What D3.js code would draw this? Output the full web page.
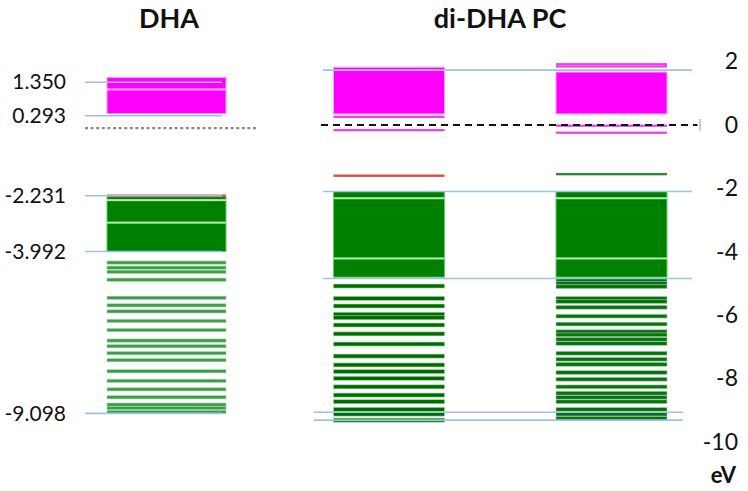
<!DOCTYPE html>
<html>
<head>
<meta charset="utf-8">
<script src="https://cdnjs.cloudflare.com/ajax/libs/d3/7.8.5/d3.min.js"></script>
<style>
  body { margin: 0; background: #fff; }
  svg { display: block; font-family: Lato, "Open Sans", sans-serif; }
</style>
</head>
<body>
<svg width="748" height="491"></svg>
<script>
// columns of the diagram
var columnNames = ["DHA", "di-DHA PC (a)", "di-DHA PC (b)"];
var titles = ["DHA", "di-DHA PC"];

// tick labels
var dhaTicks = [1.350, 0.293, -2.231, -3.992, -9.098];
var rightTicks = [2, 0, -2, -4, -6, -8, -10];

// DHA levels (eV)
var dhaUnoccBands = [[1.50, 0.36]];
var dhaUnoccGaps = [1.12];
var dhaUnoccLines = [];
var dhaFrontier = [-2.231];
var dhaOccBands = [[-2.26, -3.992]];
var dhaOccGaps = [-2.37, -3.08];
var dhaOccLines = [-4.34, -4.50, -4.63, -4.88, -5.45, -5.69, -5.88, -6.18, -6.47, -6.80,
  -6.98, -7.20, -7.42, -7.77, -8.07, -8.34, -8.59, -8.82, -8.93, -9.05];
var dhaFermi = -0.1;

// di-DHA PC, first column
var di1UnoccBands = [[1.82, 0.35]];
var di1UnoccGaps = [];
var di1UnoccLines = [0.26, -0.16];
var di1Frontier = [-1.60];
var di1OccBands = [[-2.10, -4.80]];
var di1OccGaps = [-2.31, -4.21];
var di1OccLines = [-5.08, -5.47, -5.71, -5.97, -6.08, -6.31, -6.59, -6.91, -7.29, -7.57,
  -7.78, -7.99, -8.26, -8.52, -8.73, -8.97, -9.12, -9.31];

// di-DHA PC, second column
var di2UnoccBands = [[1.67, 0.35]];
var di2UnoccGaps = [];
var di2UnoccLines = [1.92, 1.85, -0.02, -0.24];
var di2Frontier = [-1.55];
var di2OccBands = [[-2.10, -4.80]];
var di2OccGaps = [-2.31, -4.21];
var di2OccLines = [-4.89, -4.99, -5.10, -5.47, -5.57, -5.75, -6.03, -6.28, -6.52, -6.62,
  -6.76, -6.89, -7.20, -7.39, -7.55, -7.81, -8.02, -8.26, -8.46, -8.59, -8.73, -8.97, -9.12, -9.25];

// reference lines of the di-DHA PC panel
var diRefLines = [1.73, -2.10, -4.84];
var diRefLinesLow = [-9.06, -9.31];
var diFermi = 0;

var columns = [
  { key: columnNames[0], unoccBands: dhaUnoccBands, unoccGaps: dhaUnoccGaps, unoccLines: dhaUnoccLines,
    frontier: dhaFrontier, occBands: dhaOccBands, occGaps: dhaOccGaps, occLines: dhaOccLines },
  { key: columnNames[1], unoccBands: di1UnoccBands, unoccGaps: di1UnoccGaps, unoccLines: di1UnoccLines,
    frontier: di1Frontier, occBands: di1OccBands, occGaps: di1OccGaps, occLines: di1OccLines },
  { key: columnNames[2], unoccBands: di2UnoccBands, unoccGaps: di2UnoccGaps, unoccLines: di2UnoccLines,
    frontier: di2Frontier, occBands: di2OccBands, occGaps: di2OccGaps, occLines: di2OccLines }
];

var frontierColor = { "DHA": "#e0503c", "di-DHA PC (a)": "#d9503f", "di-DHA PC (b)": "#2f8a3a" };
var lineColor = { "DHA": "#3f9b4c", "di-DHA PC (a)": "#006c00", "di-DHA PC (b)": "#0b6f14" };
var lineH = { "DHA": 3.2, "di-DHA PC (a)": 4, "di-DHA PC (b)": 3.8 };

var svg = d3.select("svg");

var y = d3.scaleLinear().domain([2, -10]).range([61.6, 442]);
var x = d3.scalePoint().domain(columnNames).range([166.5, 611.5]);
function barW(k) { return k === columnNames[0] ? 119 : 111; }

var bars = svg.append("g");

columns.forEach(function (c) {
  var g = bars.append("g");
  var x0 = x(c.key) - barW(c.key) / 2;
  var w = barW(c.key);

  // unoccupied bands (magenta)
  g.selectAll(".ub").data(c.unoccBands).enter().append("rect")
    .attr("x", x0).attr("width", w)
    .attr("y", function (d) { return y(d[0]); })
    .attr("height", function (d) { return y(d[1]) - y(d[0]); })
    .attr("fill", "#ff00ff").attr("stroke", "#ff99ff").attr("stroke-width", 1);
  g.selectAll(".ug").data(c.unoccGaps).enter().append("rect")
    .attr("x", x0).attr("width", w)
    .attr("y", function (d) { return y(d) - 1; }).attr("height", 2)
    .attr("fill", "#ffb8ff");
  g.selectAll(".ul").data(c.unoccLines).enter().append("rect")
    .attr("x", x0).attr("width", w)
    .attr("y", function (d) { return y(d) - 1; }).attr("height", 2.2)
    .attr("fill", "#ea3cea");

  // occupied bands (green)
  g.selectAll(".ob").data(c.occBands).enter().append("rect")
    .attr("x", x0).attr("width", w)
    .attr("y", function (d) { return y(d[0]); })
    .attr("height", function (d) { return y(d[1]) - y(d[0]); })
    .attr("fill", "#008000").attr("stroke", "#5ccf5c").attr("stroke-width", 1);
  g.selectAll(".og").data(c.occGaps).enter().append("rect")
    .attr("x", x0).attr("width", w)
    .attr("y", function (d) { return y(d) - 1; }).attr("height", 2)
    .attr("fill", "#b6ecb6");
  g.selectAll(".ol").data(c.occLines).enter().append("rect")
    .attr("x", x0).attr("width", w)
    .attr("y", function (d) { return y(d) - lineH[c.key] / 2; }).attr("height", lineH[c.key])
    .attr("fill", lineColor[c.key])
    .attr("stroke", "#9ad99a").attr("stroke-width", 0.6);

  // frontier level
  g.selectAll(".fl").data(c.frontier).enter().append("rect")
    .attr("x", x0).attr("width", w)
    .attr("y", function (d) { return y(d) - 1.2; }).attr("height", 2.4)
    .attr("fill", frontierColor[c.key]);
});

// blue reference lines
var blue = "#9cc2e5";
var xd = x(columnNames[0]);
svg.append("g").selectAll("line").data(dhaTicks).enter().append("line")
  .attr("x1", xd - 81.5).attr("x2", xd + 55.5)
  .attr("y1", function (d) { return y(d); }).attr("y2", function (d) { return y(d); })
  .attr("stroke", blue).attr("stroke-width", 1.6);

var xa = x(columnNames[1]), xb = x(columnNames[2]);
svg.append("g").selectAll("line").data(diRefLines).enter().append("line")
  .attr("x1", xa - 66).attr("x2", xb + 80.5)
  .attr("y1", function (d) { return y(d); }).attr("y2", function (d) { return y(d); })
  .attr("stroke", blue).attr("stroke-width", 1.6);
svg.append("g").selectAll("line").data(diRefLinesLow).enter().append("line")
  .attr("x1", xa - 75).attr("x2", xb + 71.5)
  .attr("y1", function (d) { return y(d); }).attr("y2", function (d) { return y(d); })
  .attr("stroke", blue).attr("stroke-width", 1.6);

// Fermi / zero lines
svg.append("line")
  .attr("x1", xd - 81.5).attr("x2", xd + 89.5)
  .attr("y1", y(dhaFermi)).attr("y2", y(dhaFermi))
  .attr("stroke", "#8a8a8a").attr("stroke-width", 2.2).attr("stroke-dasharray", "3,2.6");
svg.append("line")
  .attr("x1", xa - 68).attr("x2", xb + 86)
  .attr("y1", y(diFermi)).attr("y2", y(diFermi))
  .attr("stroke", "#111").attr("stroke-width", 2.2).attr("stroke-dasharray", "7,5");
svg.append("line")
  .attr("x1", xb + 88.5).attr("x2", xb + 88.5)
  .attr("y1", y(diFermi) - 6).attr("y2", y(diFermi) + 6)
  .attr("stroke", "#aaa").attr("stroke-width", 1.2);

// left labels (DHA)
var leftAxis = svg.append("g")
  .attr("transform", "translate(66,0)")
  .call(d3.axisLeft(y).tickValues(dhaTicks).tickSize(0).tickPadding(0)
    .tickFormat(function (d) { return d.toFixed(3); }));
leftAxis.select(".domain").remove();
leftAxis.attr("font-family", null).attr("font-size", null);
leftAxis.selectAll("text").attr("font-size", "21px").attr("fill", "#111");

// right axis (eV)
var rightAxis = svg.append("g")
  .attr("transform", "translate(738,0)")
  .call(d3.axisLeft(y).tickValues(rightTicks).tickSize(0).tickPadding(0)
    .tickFormat(function (d) { return String(d); }));
rightAxis.select(".domain").remove();
rightAxis.attr("font-family", null).attr("font-size", null);
rightAxis.selectAll("text").attr("font-size", "23px").attr("fill", "#111");

svg.append("text")
  .attr("x", 736).attr("y", 483)
  .attr("text-anchor", "end")
  .attr("font-size", "22px").attr("font-weight", "bold").attr("fill", "#111")
  .text("eV");

// titles
svg.append("text")
  .attr("x", 169).attr("y", 28)
  .attr("text-anchor", "middle")
  .attr("font-size", "27px").attr("font-weight", "bold").attr("fill", "#111")
  .text(titles[0]);
svg.append("text")
  .attr("x", 500).attr("y", 28)
  .attr("text-anchor", "middle")
  .attr("font-size", "27px").attr("font-weight", "bold").attr("fill", "#111")
  .text(titles[1]);
</script>
</body>
</html>
